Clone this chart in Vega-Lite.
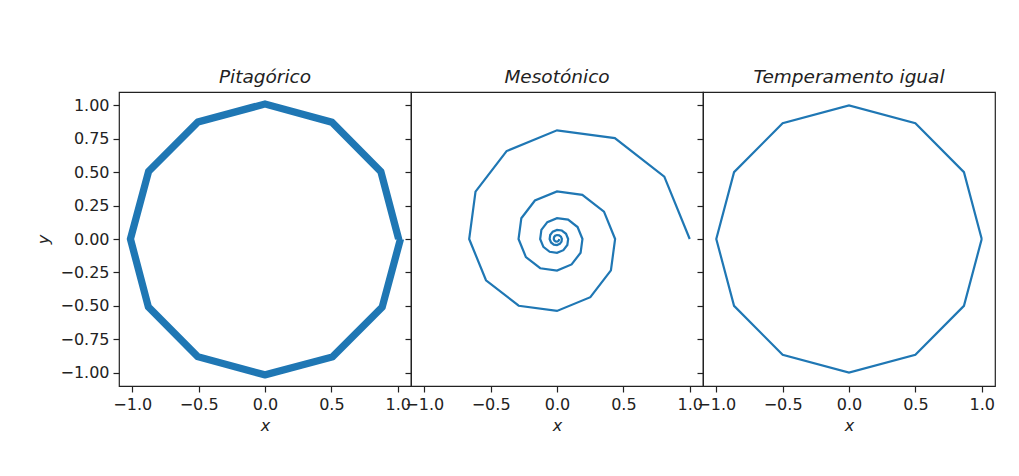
{
  "$schema": "https://vega.github.io/schema/vega-lite/v6.json",
  "background": "white",
  "padding": {"left": 35, "top": 66, "right": 5, "bottom": 5},
  "spacing": 0,
  "bounds": "flush",
  "datasets": {
    "pyth": [
      {"k": 0, "x": 1.0, "y": 0.0},
      {"k": 1, "x": 0.867, "y": 0.5006},
      {"k": 2, "x": 0.5012, "y": 0.868},
      {"k": 3, "x": 0.0, "y": 1.0035},
      {"k": 4, "x": -0.5023, "y": 0.87},
      {"k": 5, "x": -0.871, "y": 0.5029},
      {"k": 6, "x": -1.0069, "y": 0.0},
      {"k": 7, "x": -0.873, "y": -0.504},
      {"k": 8, "x": -0.5046, "y": -0.874},
      {"k": 9, "x": 0.0, "y": -1.0104},
      {"k": 10, "x": 0.5058, "y": -0.876},
      {"k": 11, "x": 0.877, "y": -0.5063},
      {"k": 12, "x": 1.0138, "y": 0.0},
      {"k": 13, "x": 0.879, "y": 0.5075},
      {"k": 14, "x": 0.5081, "y": 0.8799},
      {"k": 15, "x": 0.0, "y": 1.0173},
      {"k": 16, "x": -0.5092, "y": 0.8819},
      {"k": 17, "x": -0.8829, "y": 0.5098},
      {"k": 18, "x": -1.0207, "y": 0.0},
      {"k": 19, "x": -0.8849, "y": -0.5109},
      {"k": 20, "x": -0.5115, "y": -0.8859},
      {"k": 21, "x": 0.0, "y": -1.0242},
      {"k": 22, "x": 0.5127, "y": -0.8879},
      {"k": 23, "x": 0.8889, "y": -0.5132},
      {"k": 24, "x": 1.0276, "y": 0.0}
    ],
    "meso": [
      {"k": 0, "x": 1.0, "y": 0.0},
      {"k": 1, "x": 0.8084, "y": 0.4668},
      {"k": 2, "x": 0.4357, "y": 0.7546},
      {"k": 3, "x": 0.0, "y": 0.8135},
      {"k": 4, "x": -0.3797, "y": 0.6577},
      {"k": 5, "x": -0.6139, "y": 0.3545},
      {"k": 6, "x": -0.6617, "y": 0.0},
      {"k": 7, "x": -0.5349, "y": -0.3089},
      {"k": 8, "x": -0.2884, "y": -0.4994},
      {"k": 9, "x": 0.0, "y": -0.5383},
      {"k": 10, "x": 0.2513, "y": -0.4352},
      {"k": 11, "x": 0.4062, "y": -0.2346},
      {"k": 12, "x": 0.4379, "y": 0.0},
      {"k": 13, "x": 0.354, "y": 0.2044},
      {"k": 14, "x": 0.1908, "y": 0.3305},
      {"k": 15, "x": 0.0, "y": 0.3562},
      {"k": 16, "x": -0.1663, "y": 0.288},
      {"k": 17, "x": -0.2688, "y": 0.1552},
      {"k": 18, "x": -0.2898, "y": 0.0},
      {"k": 19, "x": -0.2343, "y": -0.1353},
      {"k": 20, "x": -0.1263, "y": -0.2187},
      {"k": 21, "x": 0.0, "y": -0.2357},
      {"k": 22, "x": 0.11, "y": -0.1905},
      {"k": 23, "x": 0.1779, "y": -0.1027},
      {"k": 24, "x": 0.1918, "y": 0.0},
      {"k": 25, "x": 0.155, "y": 0.0895},
      {"k": 26, "x": 0.0836, "y": 0.1447},
      {"k": 27, "x": 0.0, "y": 0.156},
      {"k": 28, "x": -0.0728, "y": 0.1261},
      {"k": 29, "x": -0.1177, "y": 0.068},
      {"k": 30, "x": -0.1269, "y": 0.0},
      {"k": 31, "x": -0.1026, "y": -0.0593},
      {"k": 32, "x": -0.0553, "y": -0.0958},
      {"k": 33, "x": 0.0, "y": -0.1032},
      {"k": 34, "x": 0.0482, "y": -0.0835},
      {"k": 35, "x": 0.0779, "y": -0.045},
      {"k": 36, "x": 0.084, "y": 0.0},
      {"k": 37, "x": 0.0679, "y": 0.0392},
      {"k": 38, "x": 0.0366, "y": 0.0634},
      {"k": 39, "x": 0.0, "y": 0.0683},
      {"k": 40, "x": -0.0319, "y": 0.0553},
      {"k": 41, "x": -0.0515, "y": 0.0298},
      {"k": 42, "x": -0.0556, "y": 0.0},
      {"k": 43, "x": -0.0449, "y": -0.026},
      {"k": 44, "x": -0.0242, "y": -0.0419},
      {"k": 45, "x": 0.0, "y": -0.0452},
      {"k": 46, "x": 0.0211, "y": -0.0365},
      {"k": 47, "x": 0.0341, "y": -0.0197},
      {"k": 48, "x": 0.0368, "y": 0.0},
      {"k": 49, "x": 0.0297, "y": 0.0172},
      {"k": 50, "x": 0.0161, "y": 0.0278},
      {"k": 51, "x": 0.0, "y": 0.0299},
      {"k": 52, "x": -0.014, "y": 0.0242},
      {"k": 53, "x": -0.0226, "y": 0.0131},
      {"k": 54, "x": -0.0243, "y": 0.0},
      {"k": 55, "x": -0.0197, "y": -0.0114},
      {"k": 56, "x": -0.0106, "y": -0.0184},
      {"k": 57, "x": 0.0, "y": -0.0198},
      {"k": 58, "x": 0.0093, "y": -0.016},
      {"k": 59, "x": 0.015, "y": -0.0087},
      {"k": 60, "x": 0.0161, "y": 0.0}
    ],
    "equal": [
      {"k": 0, "x": 1.0, "y": 0.0},
      {"k": 1, "x": 0.866, "y": 0.5},
      {"k": 2, "x": 0.5, "y": 0.866},
      {"k": 3, "x": 0.0, "y": 1.0},
      {"k": 4, "x": -0.5, "y": 0.866},
      {"k": 5, "x": -0.866, "y": 0.5},
      {"k": 6, "x": -1.0, "y": 0.0},
      {"k": 7, "x": -0.866, "y": -0.5},
      {"k": 8, "x": -0.5, "y": -0.866},
      {"k": 9, "x": 0.0, "y": -1.0},
      {"k": 10, "x": 0.5, "y": -0.866},
      {"k": 11, "x": 0.866, "y": -0.5},
      {"k": 12, "x": 1.0, "y": 0.0}
    ]
  },
  "config": {
    "font": "DejaVu Sans",
    "view": {"stroke": "#222", "strokeWidth": 1.2},
    "title": {"font": "DejaVu Sans", "fontSize": 18.5, "fontStyle": "italic", "fontWeight": "normal", "color": "#222", "offset": 6},
    "axis": {
      "grid": false,
      "domain": false,
      "ticks": true,
      "tickColor": "#222",
      "tickSize": 6,
      "tickWidth": 1.2,
      "labelFont": "DejaVu Sans",
      "labelFontSize": 16,
      "labelColor": "#222",
      "labelPadding": 4,
      "labelFlush": false,
      "labelOverlap": false,
      "titleFont": "DejaVu Sans",
      "titleFontSize": 16,
      "titleFontStyle": "italic",
      "titleFontWeight": "normal",
      "titleColor": "#222"
    }
  },
  "hconcat": [
    {
      "title": "Pitagórico",
      "width": 292,
      "height": 294,
      "data": {"name": "pyth"},
      "mark": {"type": "line", "color": "#1f77b4", "strokeWidth": 5.5, "strokeJoin": "round"},
      "encoding": {
        "order": {"field": "k", "type": "quantitative"},
        "x": {"field": "x", "type": "quantitative", "scale": {"domain": [-1.1, 1.1], "nice": false, "zero": false},
          "axis": {"values": [-1, -0.5, 0, 0.5, 1], "format": ".1f", "title": "x", "titlePadding": 5}},
        "y": {"field": "y", "type": "quantitative", "scale": {"domain": [-1.1, 1.1], "nice": false, "zero": false},
          "axis": {"values": [-1, -0.75, -0.5, -0.25, 0, 0.25, 0.5, 0.75, 1], "format": ".2f", "title": "y", "titlePadding": 8}}
      }
    },
    {
      "title": "Mesotónico",
      "width": 292,
      "height": 294,
      "data": {"name": "meso"},
      "mark": {"type": "line", "color": "#1f77b4", "strokeWidth": 2.2},
      "encoding": {
        "order": {"field": "k", "type": "quantitative"},
        "x": {"field": "x", "type": "quantitative", "scale": {"domain": [-1.1, 1.1], "nice": false, "zero": false},
          "axis": {"values": [-1, -0.5, 0, 0.5, 1], "format": ".1f", "title": "x", "titlePadding": 5}},
        "y": {"field": "y", "type": "quantitative", "scale": {"domain": [-1.1, 1.1], "nice": false, "zero": false},
          "axis": {"values": [-1, -0.75, -0.5, -0.25, 0, 0.25, 0.5, 0.75, 1], "labels": false, "title": null}}
      }
    },
    {
      "title": "Temperamento igual",
      "width": 292,
      "height": 294,
      "data": {"name": "equal"},
      "mark": {"type": "line", "color": "#1f77b4", "strokeWidth": 2.2},
      "encoding": {
        "order": {"field": "k", "type": "quantitative"},
        "x": {"field": "x", "type": "quantitative", "scale": {"domain": [-1.1, 1.1], "nice": false, "zero": false},
          "axis": {"values": [-1, -0.5, 0, 0.5, 1], "format": ".1f", "title": "x", "titlePadding": 5}},
        "y": {"field": "y", "type": "quantitative", "scale": {"domain": [-1.1, 1.1], "nice": false, "zero": false},
          "axis": {"values": [-1, -0.75, -0.5, -0.25, 0, 0.25, 0.5, 0.75, 1], "labels": false, "title": null}}
      }
    }
  ]
}
